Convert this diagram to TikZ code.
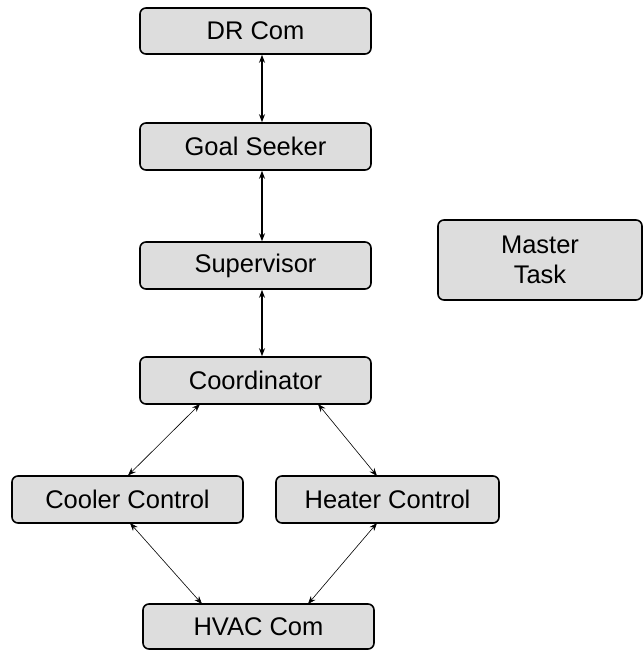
\documentclass[tikz,border=0pt]{standalone}
\usepackage{fontspec}
\setmainfont{Liberation Sans}
\usetikzlibrary{arrows.meta}
\definecolor{boxgray}{HTML}{DDDDDD}
\begin{document}
\begin{tikzpicture}[x=1pt,y=-1pt,
  box/.style={draw=black, line width=1.6pt, fill=boxgray, rounded corners=6pt,
    inner sep=0pt, font=\fontsize{25.5}{30}\selectfont, align=center},
  vlink/.style={{Stealth[length=8pt,width=6pt]}-{Stealth[length=8pt,width=6pt]}, line width=1.1pt},
  dlink/.style={{Stealth[length=8pt,width=6pt]}-{Stealth[length=8pt,width=6pt]}, line width=0.6pt}]
\useasboundingbox (0,0) rectangle (644,650);
\node[box, minimum width=231pt, minimum height=46pt] (dr) at (255.5,31) {DR Com};
\node[box, minimum width=231pt, minimum height=47pt] (goal) at (255.5,146.5) {Goal Seeker};
\node[box, minimum width=231pt, minimum height=47pt] (sup) at (255.5,265.5) {Supervisor};
\node[box, minimum width=231pt, minimum height=47pt] (coord) at (255.5,380.5) {Coordinator};
\node[box, minimum width=231pt, minimum height=47pt] (cool) at (127.5,499.5) {Cooler Control};
\node[box, minimum width=223pt, minimum height=47pt] (heat) at (387.5,499.5) {Heater Control};
\node[box, minimum width=231pt, minimum height=45pt] (hvac) at (258.5,626.5) {HVAC Com};
\node[box, minimum width=204pt, minimum height=80pt] (master) at (540,260) {Master\\Task};
\coordinate (vx) at (262,0);
\draw[vlink] (dr.south -| vx) -- (goal.north -| vx);
\draw[vlink] (goal.south -| vx) -- (sup.north -| vx);
\draw[vlink] (sup.south -| vx) -- (coord.north -| vx);
\coordinate (c1) at (200,404);
\coordinate (c2) at (318,404);
\coordinate (k1) at (128,475.5);
\coordinate (h1) at (377,476);
\coordinate (k2) at (130,523);
\coordinate (h2) at (377,523);
\coordinate (v1) at (202,604);
\coordinate (v2) at (308,604);
\draw[dlink] (c1) -- (k1);
\draw[dlink] (c2) -- (h1);
\draw[dlink] (k2) -- (v1);
\draw[dlink] (h2) -- (v2);
\end{tikzpicture}
\end{document}
